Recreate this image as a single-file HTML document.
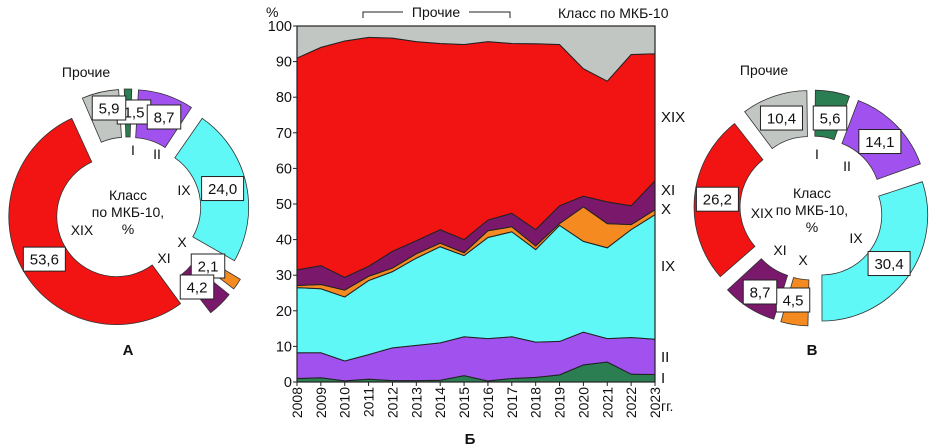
<!DOCTYPE html>
<html><head><meta charset="utf-8">
<style>
html,body{margin:0;padding:0;background:#fff;}
svg{display:block;font-family:"Liberation Sans",Arial,sans-serif;}
</style></head>
<body>
<svg id="root" width="933" height="448" viewBox="0 0 933 448" xmlns="http://www.w3.org/2000/svg">
<g id="area"></g>
<g id="donutA"></g>
<g id="donutB"></g>
</svg>
<script>
const years = [2008,2009,2010,2011,2012,2013,2014,2015,2016,2017,2018,2019,2020,2021,2022,2023];
const classNames = ["I","II","IX","X","XI","XIX","Прочие"];
const colors = ["#2b7d52","#a152ee","#5ff8f6","#f58a20","#7a186c","#f21313","#c2c6c2"];
// cumulative tops (%)
const topI   = [1.0,1.2,0.3,0.8,0.4,0.4,0.5,1.8,0.3,1.0,1.3,2.0,4.8,5.6,2.2,2.1];
const topII  = [8.2,8.2,5.9,7.7,9.6,10.3,11.0,12.7,12.2,12.7,11.2,11.4,14.0,12.2,12.5,12.0];
const topIX  = [26.5,26.2,23.9,28.5,31.0,34.8,38.0,35.5,40.6,42.2,37.2,44.0,39.5,37.7,42.8,47.0];
const topX   = [27.1,27.4,25.8,29.7,32.0,36.0,39.0,36.3,42.5,43.6,38.2,44.5,49.2,44.5,44.2,48.4];
const topXI  = [31.5,32.7,29.4,32.5,36.7,39.7,42.8,40.0,45.5,47.4,42.8,49.5,52.2,50.6,49.5,56.5];
const topXIX = [91.0,94.0,95.8,96.8,96.6,95.6,95.1,94.8,95.6,95.1,95.0,94.8,88.0,84.5,92.0,92.2];
const topOther = years.map(()=>100);
const yTicks = [0,10,20,30,40,50,60,70,80,90,100];
const donutAValues = [1.5,8.7,24.0,2.1,4.2,53.6,5.9];
const donutALabels = ["1,5","8,7","24,0","2,1","4,2","53,6","5,9"];
const donutBValues = [5.6,14.1,30.4,4.5,8.7,26.2,10.4];
const donutBLabels = ["5,6","14,1","30,4","4,5","8,7","26,2","10,4"];

const NS="http://www.w3.org/2000/svg";
function mk(tag,attrs,parent,text){const e=document.createElementNS(NS,tag);for(const k in attrs)e.setAttribute(k,attrs[k]);if(text!==undefined)e.textContent=text;parent.appendChild(e);return e;}

// ---- Area chart ----
const X0=297,X1=655,Y0=382,Y1=26;
const xs=i=>X0+(X1-X0)*i/(years.length-1);
const ys=v=>Y0-(Y0-Y1)*v/100;
const area=document.getElementById('area');
const tops=[topI,topII,topIX,topX,topXI,topXIX,topOther];
let prev=years.map(()=>0);
tops.forEach((t,k)=>{
  let d="M"+years.map((_,i)=>xs(i)+","+ys(t[i])).join(" L");
  for(let i=years.length-1;i>=0;i--) d+=" L"+xs(i)+","+ys(prev[i]);
  d+=" Z";
  const p=mk('path',{d:d,fill:colors[k],stroke:"#222","stroke-width":"1"},area);
  
  
  prev=t;
});
const frame=mk('rect',{x:X0,y:Y1,width:X1-X0,height:Y0-Y1,fill:"none",stroke:"#222","stroke-width":"1.2"},area);

yTicks.forEach(v=>{
  const l=mk('line',{x1:X0-4,x2:X0,y1:ys(v),y2:ys(v),stroke:"#222"},area);
  
  const t=mk('text',{x:X0-5,y:ys(v)+5,"text-anchor":"end","font-size":"14.5",fill:"#111"},area,String(v));
  
});
years.forEach((yr,i)=>{
  const l=mk('line',{x1:xs(i),x2:xs(i),y1:Y0,y2:Y0+4,stroke:"#222"},area);
  
  const t=mk('text',{x:0,y:0,transform:`translate(${xs(i)+5},${Y0+5}) rotate(-90)`,"text-anchor":"end","font-size":"14",fill:"#111"},area,String(yr));
  
});
function txt(x,y,s,size,name,extra){const t=mk('text',Object.assign({x:x,y:y,"font-size":size,fill:"#111"},extra||{}),area,s);return t;}
txt(266,17,"%",14,'y-axis-unit');
txt(558,18,"Класс по МКБ-10",14,'legend-title');
txt(436,17,"Прочие",14,'others-bracket-label',{"text-anchor":"middle"});
const br=mk('path',{d:"M363,18 V12 H403 M469,12 H510 V18",fill:"none",stroke:"#222","stroke-width":"1"},area);

txt(661,411,"гг.",14,'x-axis-unit');
txt(470,444,"Б",15,'panel-label-b',{"text-anchor":"middle","font-weight":"bold"});
[["XIX",122],["XI",195],["X",214],["IX",271],["II",362],["I",383]].forEach(([s,y])=>txt(661,y,s,15,'series-label-'+s.toLowerCase()));

// ---- Donuts ----
function donut(gid,cx,cy,R,r,exList,vals,labels,startOff,panel,panelX,boxPos,romanPos){
  const g=document.getElementById(gid);
  const total=vals.reduce((a,b)=>a+b,0);
  let a=startOff;
  const labelLayer=[];
  vals.forEach((v,k)=>{
    const a0=a/total*2*Math.PI, a1=(a+v)/total*2*Math.PI, am=(a0+a1)/2;
    a+=v;
    const ex=exList[k];
    const ox=cx+ex*Math.sin(am), oy=cy-ex*Math.cos(am);
    const P=(rad,an)=>[ox+rad*Math.sin(an),oy-rad*Math.cos(an)];
    const gap=0.012;
    const b0=a0+gap,b1=a1-gap;
    const [x1,y1]=P(R,b0),[x2,y2]=P(R,b1),[x3,y3]=P(r,b1),[x4,y4]=P(r,b0);
    const large=(b1-b0)>Math.PI?1:0;
    const p=mk('path',{d:`M${x1},${y1} A${R},${R} 0 ${large} 1 ${x2},${y2} L${x3},${y3} A${r},${r} 0 ${large} 0 ${x4},${y4} Z`,fill:colors[k],stroke:"#333","stroke-width":"0.8"},g);
    
    
    let [lx,ly]=P((R+r)/2,am);
    if(boxPos[k]){lx=boxPos[k][0];ly=boxPos[k][1];}
    labelLayer.push([lx,ly,labels[k]]);
    if(k<6){
      let [cx2,cy2]=P(r-12,am);
      if(romanPos[k]){cx2=romanPos[k][0];cy2=romanPos[k][1];}
      const c=mk('text',{x:cx2,y:cy2+5,"text-anchor":"middle","font-size":"14",fill:"#111"},g,classNames[k]);
      
    }
  });
  labelLayer.forEach(([lx,ly,s])=>{
    const w=s.length*8.5+8;
    const bx=mk('rect',{x:lx-w/2,y:ly-12,width:w,height:24,fill:"#fff",stroke:"#222","stroke-width":"1"},g);
    
    const t=mk('text',{x:lx,y:ly+5.5,"text-anchor":"middle","font-size":"15",fill:"#111"},g,s);
    
  });
  ["Класс","по МКБ-10,","%"].forEach((s,i)=>{
    const t=mk('text',{x:cx,y:cy-10+i*17,"text-anchor":"middle","font-size":"14",fill:"#111"},g,s);
    
  });
  const pl=mk('text',{x:panelX,y:cy-133,"text-anchor":"middle","font-size":"14",fill:"#111"},g,"Прочие");
  
  const pn=mk('text',{x:cx,y:355,"text-anchor":"middle","font-size":"15","font-weight":"bold",fill:"#111"},g,panel);
  
}
donut('donutA',128,210,108,60,[13,13,13,24,24,13,13],donutAValues,donutALabels,-0.75,"А",86,
  [[134,112],[164,117],null,[208,266],[197,287],null,[109,108]],
  [[133,150],[157,154],[184,190],[182,242],[164,258],[82,230]]);
donut('donutB',812,208,106,60,[12,12,12,12,12,12,12],donutBValues,donutBLabels,0,"В",764,
  [[830,118],null,null,[793,300],[760,292],null,null],
  [[817,154],[847,166],[856,238],[803,260],[780,250],[762,213]]);
</script>
</body></html>
